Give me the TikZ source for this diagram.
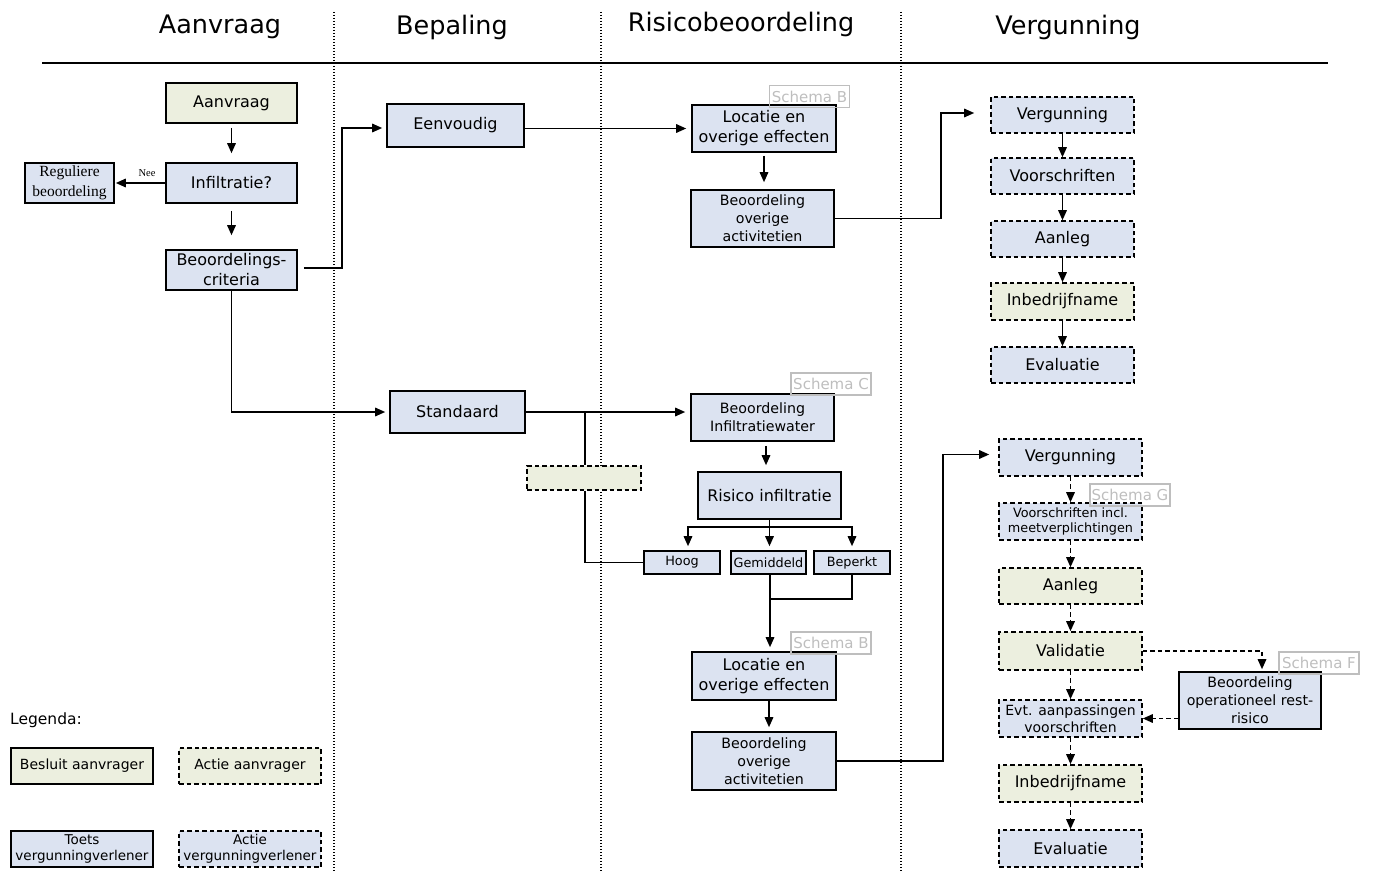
\documentclass[tikz,border=0pt]{standalone}
\usepackage{fontspec}
\setmainfont{DejaVu Sans}
\newfontfamily\serifface{Liberation Serif}
\usetikzlibrary{arrows.meta}
\definecolor{bluefill}{RGB}{220,227,241}
\definecolor{beigefill}{RGB}{236,239,223}
\definecolor{schemagray}{RGB}{190,190,190}
\newcommand\fsz[2]{\fontsize{#1}{#2}\selectfont}

\begin{document}
\begin{tikzpicture}[x=1pt,y=-1pt,
  sz/.style 2 args={minimum width=#1pt, minimum height=#2pt},
  box/.style={draw, line width=1.6pt, inner sep=0pt, align=center, font=\fsz{16}{20}},
  dbox/.style={box, dash pattern=on 4.5pt off 3pt},
  blue/.style={fill=bluefill},
  beige/.style={fill=beigefill},
  small/.style={font=\fsz{14.2}{18}},
  tiny/.style={font=\fsz{12.8}{15}},
  title/.style={font=\fsz{25.5}{30}},
  schema/.style={draw=schemagray, text=schemagray, line width=1.2pt, inner sep=0pt,
                 font=\fsz{15}{18}, sz={80}{22}},
  arr/.style={line width=1.6pt, -{Triangle[length=10pt,width=8.5pt]}},
  darr/.style={arr, dash pattern=on 4.5pt off 3pt},
  lin/.style={line width=1.6pt},
  sep/.style={line width=1.1pt, dash pattern=on 1pt off 2pt}
]
\useasboundingbox (0,0) rectangle (1373,872);

% column headings and rule
\node[title] (tA) at (220,27) {Aanvraag};
\node[title] (tB) at (452,27) {Bepaling};
\node[title] (tR) at (741,24) {Risicobeoordeling};
\node[title] (tV) at (1068,27) {Vergunning};
\draw[line width=1.9pt] (42,63) -- (1328,63);

% column separators
\draw[sep] (334,12) -- (334,872);
\draw[sep] (601,12) -- (601,872);
\draw[sep] (901,12) -- (901,872);

% Aanvraag column
\node[box, beige, sz={131}{40}] (aanv) at (231.5,103) {Aanvraag};
\node[box, blue, sz={131}{40}] (infil) at (231.5,183) {Infiltratie?};
\node[box, blue, sz={89}{40}, font=\serifface\fsz{15.5}{20}] (regul) at (69.5,183) {Reguliere\\beoordeling};
\node[font=\serifface\fsz{10.5}{12}] (nee) at (147,173) {Nee};
\node[box, blue, sz={131}{40}] (crit) at (231.5,270) {Beoordelings-\\criteria};

% Bepaling column
\node[box, blue, sz={137}{43}] (eenv) at (455.5,125.5) {Eenvoudig};
\node[box, blue, sz={135}{42}] (stand) at (457.5,412) {Standaard};
\node[dbox, beige, sz={114}{24}] (hold) at (584,478) {};

% Risicobeoordeling column, upper branch
\node[box, blue, sz={144}{47}] (loc1) at (764,128.5) {Locatie en\\overige effecten};
\node[box, blue, small, sz={143}{57}] (beo1) at (762.5,218.5) {Beoordeling\\overige\\activitetien};
\node[schema] (schB1) at (809.5,96.5) {Schema B};

% Risicobeoordeling column, lower branch
\node[box, blue, small, sz={143}{47}] (binf) at (762.5,417.5) {Beoordeling\\Infiltratiewater};
\node[schema] (schC) at (831,384) {Schema C};
\node[box, blue, sz={143}{47}] (risk) at (769.5,495.5) {Risico infiltratie};
\node[box, blue, tiny, sz={76}{23}] (hoog) at (682,562.5) {Hoog};
\node[box, blue, tiny, sz={75}{23}] (gemi) at (768.5,562.5) {Gemiddeld};
\node[box, blue, tiny, sz={76}{23}] (bepe) at (852,562.5) {Beperkt};
\node[box, blue, sz={144}{48}] (loc2) at (764,676) {Locatie en\\overige effecten};
\node[schema] (schB2) at (831,643) {Schema B};
\node[box, blue, small, sz={144}{58}] (beo2) at (764,761) {Beoordeling\\overige\\activitetien};

% Vergunning column, upper branch
\node[dbox, blue, sz={143}{36}] (verg1) at (1062.5,115) {Vergunning};
\node[dbox, blue, sz={143}{36}] (voor1) at (1062.5,176) {Voorschriften};
\node[dbox, blue, sz={143}{36}] (aanl1) at (1062.5,239) {Aanleg};
\node[dbox, beige, sz={143}{37}] (inbe1) at (1062.5,301.5) {Inbedrijfname};
\node[dbox, blue, sz={143}{36}] (eval1) at (1062.5,365) {Evaluatie};

% Vergunning column, lower branch
\node[dbox, blue, sz={143}{37}] (verg2) at (1070.5,457.5) {Vergunning};
\node[dbox, blue, tiny, sz={143}{37}] (voorm) at (1070.5,521.5) {Voorschriften incl.\\meetverplichtingen};
\node[schema] (schG) at (1130,495) {Schema G};
\node[dbox, beige, sz={143}{36}] (aanl2) at (1070.5,586) {Aanleg};
\node[dbox, beige, sz={143}{38}] (vali) at (1070.5,651) {Validatie};
\node[dbox, blue, font=\fsz{14}{17}, sz={143}{37}] (evt) at (1070.5,718.5) {Evt. aanpassingen\\voorschriften};
\node[dbox, beige, sz={143}{37}] (inbe2) at (1070.5,783.5) {Inbedrijfname};
\node[dbox, blue, sz={143}{37}] (eval2) at (1070.5,848.5) {Evaluatie};
\node[box, blue, small, sz={142}{57}] (rest) at (1250,700.5) {Beoordeling\\operationeel rest-\\risico};
\node[schema] (schF) at (1319,663) {Schema F};

% legend
\node[anchor=west, font=\fsz{15.5}{18}, inner sep=0pt] (leg) at (10,720) {Legenda:};
\node[box, beige, font=\fsz{14}{17}, sz={142}{36}] (lg1) at (82,766) {Besluit aanvrager};
\node[dbox, beige, font=\fsz{14}{17}, sz={142}{36}] (lg2) at (250,766) {Actie aanvrager};
\node[box, blue, font=\fsz{13.5}{16}, sz={142}{36}] (lg3) at (82,849) {Toets\\vergunningverlener};
\node[dbox, blue, font=\fsz{13.5}{16}, sz={142}{36}] (lg4) at (250,849) {Actie\\vergunningverlener};

% connectors: Aanvraag column
\draw[arr, shorten <=4pt, shorten >=9pt] (aanv) -- (infil);
\draw[arr, shorten <=7pt, shorten >=14pt] (infil) -- (crit);
\draw[arr, shorten >=1pt] (infil.west) -- (regul.east);
\draw[arr, shorten <=6pt, shorten >=4pt] ([yshift=2pt]crit.east) -- ++(44,0) |- ([yshift=-2.5pt]eenv.west);
\draw[arr, shorten >=4pt] (crit.south) |- (stand.west);

% connectors: upper branch
\draw[arr, shorten >=5pt] (eenv.east |- loc1.west) -- (loc1.west);
\draw[arr, shorten <=3pt, shorten >=7pt] (loc1) -- (loc1 |- beo1.north);
\draw[arr, shorten >=16pt] (beo1.east) -- ++(106,0) |- ([yshift=2pt]verg1.west);
\draw[arr] (verg1) -- (voor1);
\draw[arr] (voor1) -- (aanl1);
\draw[arr] (aanl1) -- (inbe1);
\draw[arr] (inbe1) -- (eval1);

% connectors: lower branch
\draw[arr, shorten >=5pt] (stand.east) -- (stand.east -| binf.west);
\coordinate (br) at (585,412);
\draw[lin] (br) -- (hold.north -| br);
\draw[lin] (hold.south -| br) |- (hoog.west);
\draw[arr, shorten <=4pt, shorten >=6pt] ([xshift=3.5pt]binf.south) -- ([xshift=3.5pt]binf.south |- risk.north);
\draw[lin] (risk.south) -- ++(0,7) coordinate (rb);
\draw[arr, shorten >=4pt] (rb) -| ([xshift=6pt]hoog.north);
\draw[arr, shorten >=4pt] (rb) -| (bepe.north);
\draw[arr, shorten >=4pt] (rb) -- (rb |- gemi.north);
\draw[arr, shorten >=4pt] ([xshift=1.5pt]gemi.south) -- ([xshift=1.5pt]gemi.south |- loc2.north);
\draw[lin] (bepe.south) |- ([xshift=1.5pt, yshift=-24pt]gemi.south);
\draw[arr, shorten >=4pt] ([xshift=5pt]loc2.south) -- ([xshift=5pt]loc2.south |- beo2.north);
\draw[arr, shorten >=9pt] (beo2.east) -- ++(106,0) |- ([yshift=3pt]verg2.west);
\draw[darr] (verg2) -- (voorm);
\draw[darr] (voorm) -- (aanl2);
\draw[darr] (aanl2) -- (vali);
\draw[darr] (vali) -- (evt);
\draw[darr] (evt) -- (inbe2);
\draw[darr] (inbe2) -- (eval2);
\draw[darr, shorten >=2pt] (vali.east) -| ([xshift=12pt]rest.north);
\draw[darr] (rest.west |- evt.east) -- (evt.east);
\end{tikzpicture}
\end{document}
